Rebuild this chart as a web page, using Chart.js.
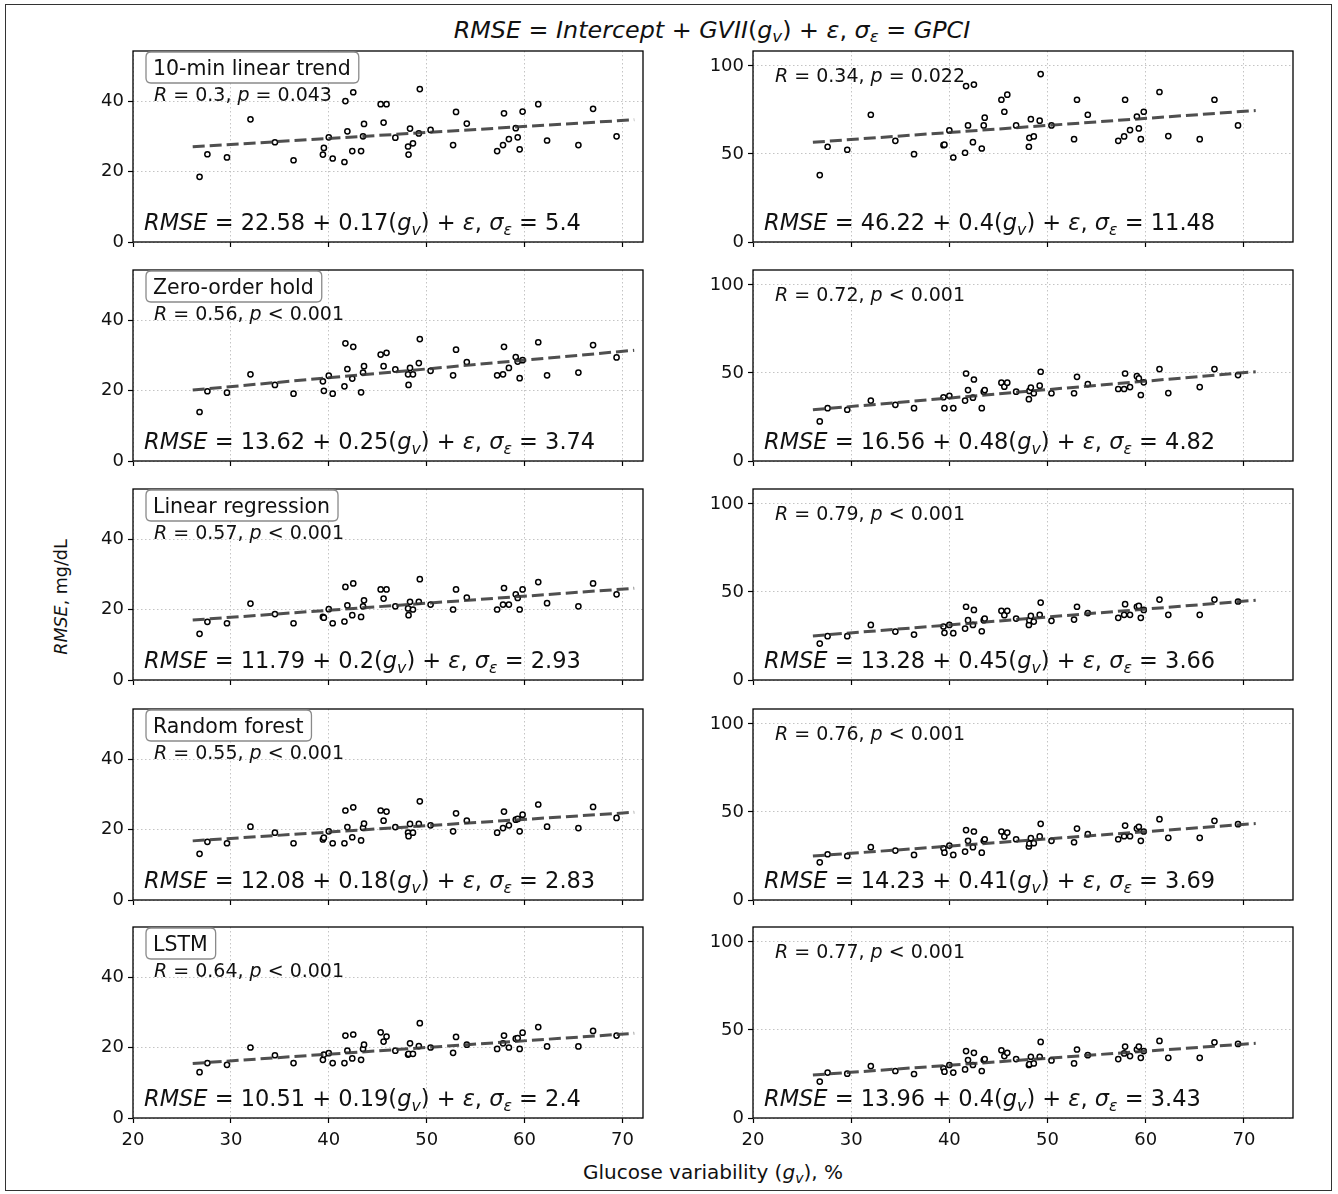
<!DOCTYPE html>
<html>
<head>
<meta charset="utf-8">
<script src="https://cdn.jsdelivr.net/npm/chart.js@4.4.1/dist/chart.umd.min.js"></script>
<style>
  html, body { margin: 0; padding: 0; background: #fff; }
  body { width: 1338px; height: 1194px; position: relative; overflow: hidden;
         font-family: "DejaVu Sans", sans-serif; color: #111; }
  #frame { position: absolute; left: 5px; top: 4px; width: 1327px; height: 1187px;
           border: 1.5px solid #333; box-sizing: border-box; }
  canvas { position: absolute; }
  .lbl { position: absolute; white-space: nowrap; transform: translate(-50%, -50%); }
  .lbl sub { font-size: 0.7em; vertical-align: -0.25em; line-height: 0; }
  #title { left: 712px; top: 30px; font-size: 23.8px; }
  #xlabel { left: 713px; top: 1172px; font-size: 20px; }
  #ylabel { left: 61px; top: 597px; font-size: 17.5px; transform: translate(-50%, -50%) rotate(-90deg); }
</style>
</head>
<body>
<div id="frame"></div>
<div class="lbl" id="title"><i>RMSE</i> = <i>Intercept</i> + <i>GVII</i>(<i>g</i><sub><i>v</i></sub>) + <i>ε</i>, <i>σ</i><sub><i>ε</i></sub> = <i>GPCI</i></div>
<div class="lbl" id="ylabel"><i>RMSE</i>, mg/dL</div>
<div class="lbl" id="xlabel">Glucose variability (<i>g</i><sub><i>v</i></sub>), %</div>

<script>
// Glucose variability of each subject (shared by every panel), %
const gv = [26.8, 27.6, 29.6, 32.0, 34.5, 36.4, 39.4, 39.5, 40.0, 40.4,
            41.6, 41.7, 41.9, 42.4, 42.5, 43.3, 43.5, 43.6, 45.3, 45.6,
            45.9, 46.8, 48.1, 48.15, 48.3, 48.6, 49.2, 49.3, 50.4, 52.7,
            53.0, 54.1, 57.2, 57.8, 57.9, 58.4, 59.1, 59.3, 59.5, 59.8,
            61.4, 62.3, 65.5, 67.0, 69.4];

// RMSE per subject, left column (mg/dL)
const trendLeft = [18.5, 24.9, 24.0, 34.8, 28.3, 23.2, 24.8, 26.7, 29.7, 23.7,
                   22.7, 40.0, 31.4, 25.8, 42.5, 25.8, 30.0, 33.5, 39.1, 33.9,
                   39.1, 29.6, 27.1, 24.8, 32.2, 28.0, 30.8, 43.4, 31.8, 27.5,
                   36.9, 33.6, 25.8, 27.5, 36.5, 29.2, 32.3, 29.7, 26.3, 37.0,
                   39.1, 28.8, 27.5, 37.8, 30.0];
const zohLeft = [13.9, 19.8, 19.4, 24.6, 21.6, 19.1, 22.6, 19.9, 24.2, 19.1,
                 21.2, 33.4, 26.1, 23.4, 32.4, 19.5, 25.1, 26.9, 30.2, 26.9,
                 30.7, 26.0, 24.6, 21.6, 26.4, 24.6, 27.8, 34.6, 25.6, 24.3,
                 31.6, 28.1, 24.3, 24.6, 32.4, 26.4, 29.5, 28.2, 23.5, 28.6,
                 33.7, 24.3, 25.1, 32.9, 29.4];
const linregLeft = [13.1, 16.5, 16.1, 21.7, 18.7, 16.1, 17.9, 17.7, 20.1, 16.1,
                    16.6, 26.4, 21.2, 18.4, 27.4, 17.9, 20.9, 22.6, 25.7, 23.1,
                    25.7, 20.9, 20.3, 18.4, 22.2, 20.0, 22.2, 28.6, 21.4, 20.0,
                    25.7, 23.4, 20.0, 21.4, 26.1, 21.4, 24.3, 23.3, 20.0, 25.7,
                    27.8, 21.8, 20.9, 27.4, 24.3];
const forestLeft = [13.1, 16.5, 16.1, 20.8, 19.1, 16.1, 17.2, 17.7, 19.5, 16.1,
                    16.1, 25.4, 20.7, 17.8, 26.3, 16.9, 20.5, 21.7, 25.4, 22.5,
                    25.1, 20.7, 19.1, 18.1, 21.6, 19.1, 21.6, 28.0, 21.2, 19.5,
                    24.6, 22.5, 19.1, 20.4, 25.1, 21.2, 22.8, 23.0, 19.5, 24.2,
                    27.1, 20.8, 20.4, 26.4, 23.3];
const lstmLeft = [13.0, 15.6, 15.1, 20.0, 17.8, 15.6, 16.5, 18.0, 18.4, 15.6,
                  15.6, 23.4, 19.1, 16.9, 23.7, 16.5, 19.6, 20.8, 24.3, 21.7,
                  23.1, 19.1, 18.0, 18.2, 21.2, 18.2, 20.4, 26.9, 20.0, 18.5,
                  23.0, 20.8, 19.6, 21.2, 23.4, 20.0, 22.5, 22.7, 19.6, 24.2,
                  25.8, 20.3, 20.3, 24.7, 23.4];

// RMSE per subject, right column (mg/dL)
const trendRight = [38.0, 54.1, 52.4, 72.3, 57.5, 49.9, 55.0, 55.3, 63.4, 48.0,
                    50.7, 88.6, 66.2, 56.7, 89.4, 53.1, 66.2, 70.6, 80.8, 74.0,
                    83.7, 66.2, 54.1, 59.2, 69.8, 60.0, 68.9, 95.4, 66.2, 58.4,
                    80.8, 72.3, 57.5, 60.0, 80.8, 63.6, 71.3, 64.5, 58.4, 74.0,
                    85.2, 60.2, 58.4, 80.8, 66.2];
const zohRight = [22.5, 30.0, 29.1, 34.3, 31.9, 30.0, 36.2, 30.0, 37.0, 30.0,
                  34.3, 49.7, 40.3, 36.0, 46.3, 30.0, 39.4, 40.3, 44.5, 42.2,
                  44.5, 39.4, 35.1, 39.8, 41.7, 38.5, 42.8, 50.7, 38.5, 38.5,
                  47.8, 43.7, 40.9, 40.9, 49.7, 42.0, 48.2, 46.9, 37.5, 44.7,
                  52.2, 38.6, 42.0, 52.2, 48.8];
const linregRight = [20.7, 24.9, 24.9, 31.3, 27.5, 25.8, 30.4, 26.8, 31.3, 26.6,
                     29.2, 41.6, 34.0, 31.3, 39.8, 27.7, 34.0, 34.9, 39.3, 36.8,
                     39.3, 34.9, 31.3, 34.0, 36.4, 33.2, 37.0, 44.0, 33.6, 34.3,
                     41.6, 38.0, 35.3, 37.0, 43.1, 37.0, 41.6, 42.1, 35.3, 39.8,
                     45.7, 37.0, 37.0, 45.7, 44.6];
const forestRight = [21.4, 26.0, 25.0, 30.0, 28.1, 25.6, 29.4, 26.9, 30.9, 25.6,
                     27.5, 39.7, 33.6, 30.0, 38.9, 26.9, 33.6, 34.5, 38.9, 36.1,
                     38.3, 34.5, 30.4, 32.1, 35.1, 32.3, 36.1, 43.3, 33.6, 32.8,
                     40.6, 37.4, 34.5, 36.2, 42.3, 36.2, 40.6, 41.6, 33.6, 38.9,
                     45.9, 35.3, 35.3, 45.0, 43.1];
const lstmRight = [20.7, 25.8, 25.2, 29.5, 26.7, 25.0, 28.2, 26.3, 30.1, 25.8,
                   27.6, 38.0, 32.9, 30.1, 37.0, 26.7, 32.9, 33.5, 38.5, 35.2,
                   37.0, 33.5, 30.1, 30.6, 34.8, 31.0, 34.8, 43.2, 32.7, 31.0,
                   38.9, 35.7, 33.5, 36.7, 40.6, 35.2, 38.9, 40.6, 34.2, 38.0,
                   43.8, 34.2, 34.2, 43.0, 42.1];

// Forecasting methods (one row each)
const methods = ['10-min linear trend', 'Zero-order hold', 'Linear regression', 'Random forest', 'LSTM'];

// Fitted models RMSE = Intercept + GVII(gv) + e, sigma_e = GPCI
const interceptLeft = [22.58, 13.62, 11.79, 12.08, 10.51];
const slopeLeft     = [0.17, 0.25, 0.2, 0.18, 0.19];
const sigmaLeft     = [5.4, 3.74, 2.93, 2.83, 2.4];
const rLeft         = [0.3, 0.56, 0.57, 0.55, 0.64];
const pLeft         = ['= 0.043', '< 0.001', '< 0.001', '< 0.001', '< 0.001'];

const interceptRight = [46.22, 16.56, 13.28, 14.23, 13.96];
const slopeRight     = [0.4, 0.48, 0.45, 0.41, 0.4];
const sigmaRight     = [11.48, 4.82, 3.66, 3.69, 3.43];
const rRight         = [0.34, 0.72, 0.79, 0.76, 0.77];
const pRight         = ['= 0.022', '< 0.001', '< 0.001', '< 0.001', '< 0.001'];

// Range over which the fitted line is drawn (gv, %)
const fitRange = [26.1, 71.2];

// Axis ticks
const xTicks = [20, 30, 40, 50, 60, 70];
const yTicksLeft = [0, 20, 40];
const yTicksRight = [0, 50, 100];
const xLimits = [[20, 72.1], [20, 75.0]];
const yLimits = [[0, 54.2], [0, 108.5]];

const seriesLeft = [trendLeft, zohLeft, linregLeft, forestLeft, lstmLeft];
const seriesRight = [trendRight, zohRight, linregRight, forestRight, lstmRight];

// ---- layout of the panel grid (page pixels) ----
const colLeft = [133, 753];
const colWidth = [510, 540];
const rowTop = [51, 270, 489, 709, 927];
const rowHeight = 191;
const padL = 60, padT = 16, padR = 10, padB = 35;
const FONT = '"DejaVu Sans", sans-serif';
const INK = '#111';

function drawRich(ctx, x, y, segs, size) {
  let cx = x;
  for (const s of segs) {
    const fs = s.sub ? size * 0.7 : size;
    ctx.font = (s.it ? 'italic ' : '') + fs + 'px ' + FONT;
    ctx.fillText(s.t, cx, y + (s.sub ? size * 0.22 : 0));
    cx += ctx.measureText(s.t).width;
  }
  return cx - x;
}

function roundRectPath(ctx, x, y, w, h, r) {
  ctx.beginPath();
  ctx.moveTo(x + r, y);
  ctx.lineTo(x + w - r, y);
  ctx.quadraticCurveTo(x + w, y, x + w, y + r);
  ctx.lineTo(x + w, y + h - r);
  ctx.quadraticCurveTo(x + w, y + h, x + w - r, y + h);
  ctx.lineTo(x + r, y + h);
  ctx.quadraticCurveTo(x, y + h, x, y + h - r);
  ctx.lineTo(x, y + r);
  ctx.quadraticCurveTo(x, y, x + r, y);
  ctx.closePath();
}

// Draws the axes frame, the method box, the correlation and the fitted equation
const annotate = {
  id: 'annotate',
  afterDraw(chart, args, o) {
    const { ctx, chartArea: a } = chart;
    ctx.save();
    ctx.strokeStyle = '#000';
    ctx.lineWidth = 1.3;
    ctx.strokeRect(a.left, a.top, a.right - a.left, a.bottom - a.top);

    ctx.fillStyle = INK;
    ctx.textBaseline = 'alphabetic';
    ctx.textAlign = 'left';

    if (o.method) {
      const fs = 20.5;
      ctx.font = fs + 'px ' + FONT;
      const tw = ctx.measureText(o.method).width;
      const bx = a.left + 13, by = a.top + 1, bw = tw + 15, bh = 31;
      roundRectPath(ctx, bx, by, bw, bh, 5);
      ctx.fillStyle = '#fff';
      ctx.fill();
      ctx.strokeStyle = '#8a8a8a';
      ctx.lineWidth = 1.3;
      ctx.stroke();
      ctx.fillStyle = INK;
      ctx.fillText(o.method, bx + 7, by + 23);
    }

    const rSegs = [
      { t: 'R', it: 1 }, { t: ' = ' + o.r + ', ' },
      { t: 'p', it: 1 }, { t: ' ' + o.p }
    ];
    drawRich(ctx, a.left + o.rDx, a.top + o.rDy, rSegs, 19);

    const eqSegs = [
      { t: 'RMSE', it: 1 }, { t: ' = ' + o.b0 + ' + ' + o.b1 + '(' },
      { t: 'g', it: 1 }, { t: 'v', it: 1, sub: 1 }, { t: ') + ' },
      { t: 'ε', it: 1 }, { t: ', ' }, { t: 'σ', it: 1 }, { t: 'ε', it: 1, sub: 1 },
      { t: ' = ' + o.sd }
    ];
    drawRich(ctx, a.left + 11, a.bottom - 12, eqSegs, 22.5);
    ctx.restore();
  }
};

function makePanel(row, col) {
  const ys = col === 0 ? seriesLeft[row] : seriesRight[row];
  const b0 = col === 0 ? interceptLeft[row] : interceptRight[row];
  const b1 = col === 0 ? slopeLeft[row] : slopeRight[row];
  const sd = col === 0 ? sigmaLeft[row] : sigmaRight[row];
  const r = col === 0 ? rLeft[row] : rRight[row];
  const p = col === 0 ? pLeft[row] : pRight[row];
  const yTicks = col === 0 ? yTicksLeft : yTicksRight;

  const cv = document.createElement('canvas');
  const w = colWidth[col] + padL + padR;
  const h = rowHeight + padT + padB;
  cv.width = w; cv.height = h;
  cv.style.left = (colLeft[col] - padL) + 'px';
  cv.style.top = (rowTop[row] - padT) + 'px';
  cv.style.width = w + 'px'; cv.style.height = h + 'px';
  document.body.appendChild(cv);

  const gridCommon = {
    color: '#bdbdbd', lineWidth: 0.9,
    drawTicks: true, tickLength: 5, tickColor: '#000', tickWidth: 1.2, tickBorderDash: []
  };
  const tickFont = { family: FONT, size: 18 };

  new Chart(cv, {
    type: 'scatter',
    data: {
      datasets: [
        {
          type: 'line',
          data: fitRange.map(x => ({ x: x, y: b0 + b1 * x })),
          borderColor: 'rgba(55,55,55,0.88)',
          borderWidth: 3,
          borderDash: [12, 5],
          pointRadius: 0,
          fill: false,
          tension: 0
        },
        {
          data: gv.map((x, i) => ({ x: x, y: ys[i] })),
          pointStyle: 'circle',
          pointRadius: 2.6,
          pointHoverRadius: 2.6,
          borderWidth: 1.5,
          borderColor: '#000',
          backgroundColor: '#fff'
        }
      ]
    },
    options: {
      responsive: false,
      animation: false,
      events: [],
      layout: { padding: { top: padT, right: padR, left: 0, bottom: 0 } },
      plugins: {
        legend: { display: false },
        tooltip: { enabled: false },
        annotate: {
          method: col === 0 ? methods[row] : null,
          r: r, p: p, b0: b0, b1: b1, sd: sd,
          rDx: col === 0 ? 21 : 22,
          rDy: col === 0 ? 50 : 31
        }
      },
      scales: {
        x: {
          type: 'linear',
          min: xLimits[col][0], max: xLimits[col][1],
          afterBuildTicks: s => { s.ticks = xTicks.map(v => ({ value: v })); },
          afterFit: s => { s.height = padB; },
          grid: gridCommon,
          border: { display: false, dash: [1.5, 2.5] },
          ticks: { display: row === 4, font: tickFont, color: INK, padding: 7, maxRotation: 0, autoSkip: false }
        },
        y: {
          type: 'linear',
          min: yLimits[col][0], max: yLimits[col][1],
          afterBuildTicks: s => { s.ticks = yTicks.map(v => ({ value: v })); },
          afterFit: s => { s.width = padL; },
          grid: gridCommon,
          border: { display: false, dash: [1.5, 2.5] },
          ticks: { font: tickFont, color: INK, padding: 4, autoSkip: false }
        }
      }
    },
    plugins: [annotate]
  });
}

for (let row = 0; row < 5; row++) {
  makePanel(row, 0);
  makePanel(row, 1);
}
</script>
</body>
</html>
